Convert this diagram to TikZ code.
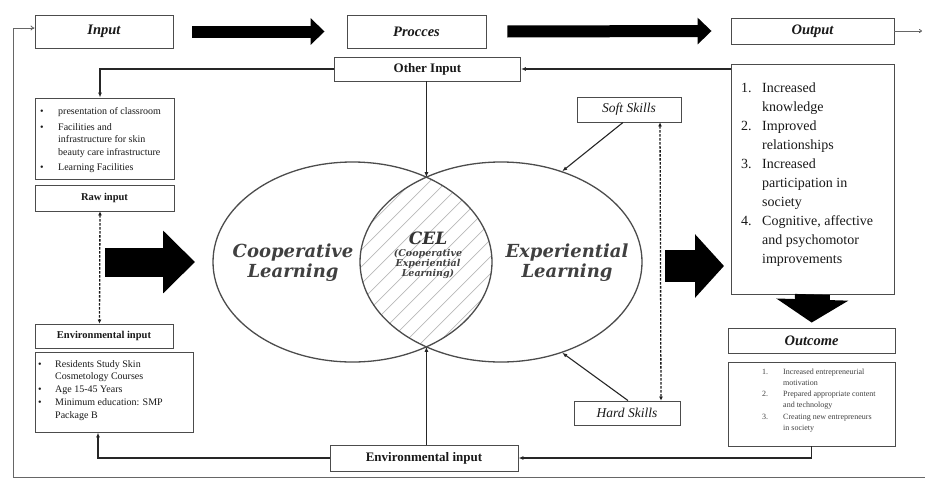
\documentclass[tikz,border=0pt]{standalone}
\usepackage{fontspec}
\setmainfont{Liberation Serif}
\newfontfamily\dvs{DejaVu Serif}
\usetikzlibrary{arrows.meta,shapes.geometric}
\begin{document}
\begin{tikzpicture}[x=1pt,y=-1pt,
  box/.style={draw=black!70,line width=0.9pt,fill=white,inner sep=0pt,align=center,text=black!90},
  arr/.style={draw=black!85,line width=1.1pt,-{Latex[length=5pt,width=4pt]}},
  dasharr/.style={draw=black!90,line width=1.3pt,dash pattern=on 2.5pt off 1.5pt,{Latex[length=4pt,width=4pt]}-{Latex[length=4pt,width=4pt]}},
  topbig/.style={draw=black,line width=12pt,-{Triangle[length=14pt,width=26pt]}},
  fb/.style={draw=black!60,line width=0.8pt},
  ell/.style={draw=black!70,line width=1.3pt,ellipse,inner sep=0pt},
  elltext/.style={font=\dvs\bfseries\itshape\fontsize{18}{20}\selectfont,align=center,text=black!75},
  hatch/.style={draw=black!28,line width=0.7pt},
  txt/.style={inner sep=0pt,anchor=north west,text=black!90},
  toplab/.style={font=\fontsize{14.5}{16}\selectfont\bfseries\itshape},
  boldlab/.style={font=\fontsize{10.5}{12}\selectfont\bfseries},
  skill/.style={font=\fontsize{13.5}{15}\selectfont\itshape}
]
\useasboundingbox (0,0) rectangle (925,479);

% top row
\node[box,toplab,minimum width=138pt,minimum height=33pt] (input) at (104,31.5) {Input};
\node[box,toplab,minimum width=139pt,minimum height=33pt] (procces) at (416.5,31.5) {Procces};
\node[box,toplab,minimum width=163pt,minimum height=26pt] (output) at (812.5,31) {Output};
\draw[topbig] ([xshift=19pt]input.east) -- ([xshift=-22pt]procces.west);
\draw[topbig] ([xshift=21pt]procces.east) -- ([xshift=-19pt]output.west);

% feedback loop
\coordinate (fbB) at (13,477);
\coordinate (fbR) at (925,477);
\coordinate (fbTR) at (922,31);
\draw[fb] (fbR) -- (fbB);
\draw[fb,-{To[length=4pt,width=5pt]}] (fbB) |- ([yshift=3.5pt]input.west);
\draw[fb,-{To[length=3pt,width=4pt]}] (output.east) -- (fbTR);

% other input
\node[box,font=\fontsize{13}{15}\selectfont\bfseries,minimum width=186pt,minimum height=24pt] (other) at (427.5,69) {Other Input};

% left column
\node[box,minimum width=139pt,minimum height=81pt] (topbox) at (104.5,138.5) {};
\node[txt,font=\fontsize{10}{12.5}\selectfont] (toptxt) at (40,105.3) {\begin{tabular}{@{}p{18pt}@{}l@{}}
\textbullet & presentation of classroom\\[3.5pt]
\textbullet & Facilities and\\
 & infrastructure for skin\\
 & beauty care infrastructure\\[2.5pt]
\textbullet & Learning Facilities
\end{tabular}};
\node[box,boldlab,minimum width=139pt,minimum height=26pt] (raw) at (104.5,198) {Raw input};
\node[box,boldlab,minimum width=138pt,minimum height=24pt] (envin) at (104,336) {Environmental input};
\node[box,minimum width=158pt,minimum height=80pt] (envlist) at (114,392) {};
\node[txt,font=\fontsize{10}{12.8}\selectfont] (envtxt) at (38,358) {\begin{tabular}{@{}p{17pt}@{}l@{}}
\textbullet & Residents Study Skin\\
 & Cosmetology Courses\\
\textbullet & Age 15-45 Years\\
\textbullet & Minimum education: SMP\\
 & Package B
\end{tabular}};

% bottom environmental input
\node[box,font=\fontsize{13}{15}\selectfont\bfseries,minimum width=188pt,minimum height=26pt] (envbot) at (424,458) {Environmental input};

% skills
\node[box,skill,minimum width=104pt,minimum height=25pt] (soft) at (629,109.5) {Soft Skills};
\node[box,skill,minimum width=106pt,minimum height=24pt] (hard) at (627,413) {Hard Skills};

% right column
\node[box,minimum width=163pt,minimum height=230pt] (outlist) at (812.5,179) {};
\node[txt,font=\fontsize{14}{19}\selectfont] (outtxt) at (741,78.7) {\begin{tabular}{@{}p{21pt}@{}l@{}}
1. & Increased\\
 & knowledge\\
2. & Improved\\
 & relationships\\
3. & Increased\\
 & participation in\\
 & society\\
4. & Cognitive, affective\\
 & and psychomotor\\
 & improvements
\end{tabular}};
\node[box,toplab,minimum width=167pt,minimum height=25pt] (outcome) at (811.5,340.5) {Outcome};
\node[box,minimum width=167pt,minimum height=84pt] (outcomelist) at (811.5,404) {};
\node[txt,font=\fontsize{8}{11.2}\selectfont,text=black!75] (outctxt) at (762,366.2) {\begin{tabular}{@{}p{21pt}@{}l@{}}
1. & Increased entrepreneurial\\
 & motivation\\
2. & Prepared appropriate content\\
 & and technology\\
3. & Creating new entrepreneurs\\
 & in society
\end{tabular}};

% Venn
\begin{scope}
\clip (352.5,262) ellipse [x radius=139.5pt, y radius=100pt];
\clip (501,262) ellipse [x radius=141pt, y radius=100pt];
\foreach \i in {180,197,...,600} \draw[hatch] (\i,380) -- ++(230,-230);
\end{scope}
\node[ell,minimum width=279pt,minimum height=200pt] (coop) at (352.5,262) {};
\node[ell,minimum width=282pt,minimum height=200pt] (expe) at (501,262) {};
\coordinate (lensT) at (426.4,177.2);
\coordinate (lensB) at (426.4,346.8);
\node[elltext] (cooptxt) at (293,263) {Cooperative\\Learning};
\node[elltext] (expetxt) at (567,263) {Experiential\\Learning};
\node[text=black!80,inner sep=0pt,font=\dvs\bfseries\itshape\fontsize{17}{18}\selectfont] (cel) at (428,238) {CEL};
\node[align=center,text=black!75,inner sep=0pt,font=\dvs\bfseries\itshape\fontsize{9.5}{10}\selectfont] (celsub) at (428,264) {(Cooperative\\Experiential\\Learning)};

% big arrows
\coordinate (bigLa) at (105,262);
\coordinate (bigLb) at (195,262);
\draw[draw=black,line width=29pt,-{Triangle[length=32pt,width=61pt]}] (bigLa) -- (bigLb);
\coordinate (bigRa) at (665,266);
\coordinate (bigRb) at (724,266);
\draw[draw=black,line width=32pt,-{Triangle[length=29pt,width=62pt]}] (bigRa) -- (bigRb);
\draw[draw=black,line width=35pt,-{Triangle[length=23pt,width=71pt]},shorten >=5pt] (outlist.south) -- (outcome.north);

% connectors
\draw[arr] (other.west) -| ([xshift=-4.5pt]topbox.north);
\draw[arr] (outlist.west |- other.east) -- (other.east);
\draw[arr] (other.south -| lensT) -- (lensT);
\draw[dasharr] ([xshift=-4.5pt]raw.south) -- ([xshift=-4.5pt]envin.north);
\draw[arr] (envbot.west) -| ([xshift=-16pt]envlist.south);
\draw[arr] (outcomelist.south) |- (envbot.east);
\draw[arr] (envbot.north -| lensB) -- (lensB);
\draw[arr] ([xshift=-6pt]soft.south) -- (expe.56);
\draw[arr] ([xshift=1pt]hard.north) -- (expe.-56);
\draw[dasharr] ([xshift=31pt]soft.south) -- ([xshift=34pt]hard.north);
\end{tikzpicture}
\end{document}
